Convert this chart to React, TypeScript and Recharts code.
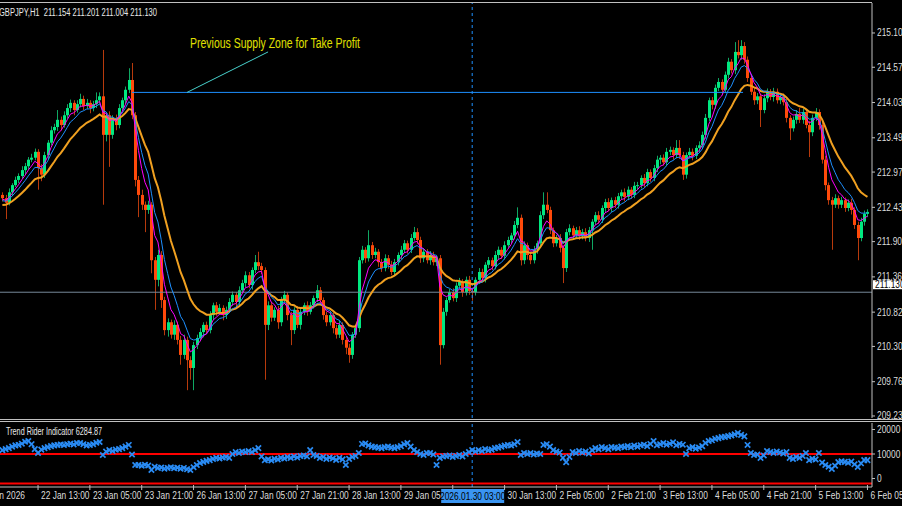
import { ComposedChart, Bar, Line, Scatter, XAxis, YAxis, ReferenceLine } from 'recharts'

// GBPJPY H1 closes, 22 Jan 2026 ~00:00 -> 6 Feb 2026 05:00
const closes = [
  212.57, 212.50, 212.66, 212.77, 212.85, 212.91, 213.00, 213.06, 213.16, 213.19,
  213.28, 213.03, 212.93, 213.23, 213.42, 213.61, 213.66, 213.77, 213.69, 213.84,
  213.95, 214.03, 213.92, 214.01, 214.09, 213.98, 214.03, 213.95, 214.01, 214.07,
  214.13, 213.54, 213.84, 213.54, 213.80, 213.69, 213.95, 214.07, 214.23, 214.38,
  213.84, 212.85, 212.62, 212.47, 212.39, 212.47, 211.62, 211.32, 211.70, 211.01,
  210.55, 210.67, 210.48, 210.63, 210.40, 210.17, 210.40, 210.09, 209.97, 210.32,
  210.43, 210.52, 210.63, 210.55, 210.78, 210.93, 210.83, 210.89, 210.78, 210.86,
  210.98, 211.09, 210.98, 211.16, 211.27, 211.39, 211.24, 211.47, 211.59, 211.53,
  211.47, 210.63, 210.93, 210.74, 210.86, 210.67, 211.01, 211.09, 210.78, 210.55,
  210.86, 210.63, 210.83, 210.93, 210.83, 210.93, 211.04, 211.16, 211.01, 210.78,
  210.67, 210.78, 210.58, 210.48, 210.63, 210.40, 210.28, 210.17, 210.48, 210.58,
  211.62, 211.78, 211.65, 211.85, 211.70, 211.75, 211.59, 211.50, 211.65, 211.55,
  211.44, 211.59, 211.70, 211.78, 211.88, 211.78, 211.96, 212.05, 211.93, 211.65,
  211.75, 211.62, 211.70, 211.59, 211.65, 210.32, 210.83, 211.01, 211.13, 211.04,
  211.23, 211.29, 211.13, 211.32, 211.15, 211.13, 211.32, 211.44, 211.35, 211.55,
  211.62, 211.53, 211.70, 211.78, 211.69, 211.85, 211.93, 212.00, 212.16, 212.27,
  211.62, 211.85, 211.70, 211.62, 211.78, 211.88, 212.31, 212.47, 212.39, 212.08,
  211.88, 211.96, 211.81, 211.50, 212.05, 212.11, 212.00, 212.08, 211.99, 212.05,
  211.96, 212.08, 212.21, 212.31, 212.24, 212.42, 212.51, 212.42, 212.54, 212.47,
  212.60, 212.66, 212.59, 212.70, 212.62, 212.76, 212.77, 212.88, 212.80, 212.97,
  212.88, 213.03, 213.16, 213.19, 213.12, 213.28, 213.31, 213.23, 213.34, 213.23,
  212.93, 213.23, 213.28, 213.22, 213.34, 213.38, 213.54, 213.80, 214.07, 214.00,
  214.26, 214.35, 214.23, 214.46, 214.66, 214.53, 214.81, 214.76, 214.90, 214.69,
  214.41, 214.20, 214.07, 214.13, 213.92, 214.10, 214.20, 214.12, 214.20, 214.07,
  214.12, 214.04, 213.80, 213.64, 213.77, 213.86, 213.77, 213.89, 213.69, 213.58,
  213.80, 213.89, 213.69, 213.16, 212.77, 212.54, 212.47, 212.57, 212.47, 212.54,
  212.42, 212.50, 212.39, 212.16, 211.96, 212.21, 212.33, 212.36,
]
const firstOpen = 212.62

// wick above max(open, close) and below min(open, close)
const upperWicks = [
  .04, .05, .06, .03, .05, .04, .06, .05, .04, .06,
  .05, .04, .06, .05, .04, .06, .05, .15, .05, .06,
  .06, .05, .04, .06, .08, .05, .06, .04, .05, .12,
  .06, .71, .05, .06, .04, .05, .06, .04, .05, .18,
  .26, .05, .06, .08, .05, .06, .04, .05, .08, .06,
  .05, .06, .04, .07, .05, .06, .08, .05, .06, .05,
  .05, .06, .04, .05, .06, .04, .05, .06, .04, .05,
  .06, .05, .04, .06, .05, .06, .05, .04, .11, .16,
  .05, .04, .06, .05, .04, .06, .05, .06, .04, .05,
  .04, .06, .05, .04, .06, .05, .04, .08, .05, .04,
  .05, .06, .04, .05, .06, .04, .05, .06, .04, .05,
  .05, .06, .04, .23, .05, .06, .04, .05, .06, .05,
  .06, .05, .04, .06, .05, .04, .06, .08, .06, .05,
  .05, .04, .06, .05, .04, .05, .06, .04, .05, .06,
  .05, .06, .04, .05, .06, .05, .04, .06, .05, .04,
  .05, .04, .06, .05, .04, .06, .05, .04, .06, .16,
  .05, .06, .04, .05, .06, .04, .06, .19, .19, .05,
  .04, .05, .06, .04, .05, .06, .04, .05, .06, .05,
  .06, .05, .04, .05, .06, .04, .05, .06, .04, .05,
  .05, .04, .06, .05, .04, .06, .05, .04, .06, .05,
  .04, .05, .06, .04, .05, .06, .05, .04, .12, .12,
  .05, .04, .06, .05, .04, .06, .05, .06, .04, .05,
  .05, .06, .04, .05, .06, .04, .15, .18, .09, .06,
  .05, .04, .06, .05, .04, .06, .05, .04, .06, .05,
  .04, .05, .06, .04, .05, .06, .09, .05, .04, .06,
  .05, .06, .04, .05, .06, .04, .05, .06, .04, .05,
  .04, .05, .06, .04, .05, .06, .05, .04,
]
const lowerWicks = [
  .05, .25, .04, .06, .03, .05, .04, .06, .05, .04,
  .04, .33, .10, .05, .06, .04, .05, .06, .08, .04,
  .05, .06, .08, .04, .05, .06, .04, .08, .05, .06,
  .05, 1.07, .10, .49, .06, .08, .05, .04, .06, .05,
  .06, .10, .34, .08, .34, .06, .20, .46, .10, .12,
  .08, .10, .06, .08, .07, .15, .06, .46, .18, .34,
  .06, .05, .08, .06, .05, .07, .06, .05, .08, .06,
  .05, .06, .08, .05, .04, .06, .05, .07, .05, .06,
  .06, .84, .08, .06, .05, .10, .06, .05, .08, .23,
  .06, .05, .07, .05, .06, .04, .05, .06, .05, .07,
  .06, .05, .08, .06, .05, .07, .10, .12, .06, .05,
  .06, .05, .07, .05, .06, .05, .07, .06, .05, .06,
  .05, .06, .05, .07, .05, .06, .05, .04, .06, .07,
  .06, .05, .07, .05, .06, .30, .05, .06, .04, .05,
  .06, .05, .07, .05, .06, .13, .05, .06, .05, .07,
  .05, .06, .05, .07, .05, .06, .04, .05, .06, .05,
  .08, .06, .07, .06, .05, .06, .05, .06, .05, .06,
  .06, .05, .07, .23, .06, .05, .06, .05, .06, .05,
  .05, .06, .30, .05, .06, .05, .07, .05, .06, .05,
  .06, .05, .07, .05, .06, .05, .06, .05, .07, .05,
  .06, .05, .06, .07, .05, .06, .05, .07, .05, .06,
  .08, .06, .05, .07, .05, .06, .05, .06, .05, .07,
  .06, .05, .07, .05, .06, .05, .06, .05, .07, .06,
  .06, .05, .07, .06, .26, .05, .06, .05, .07, .05,
  .06, .05, .07, .18, .05, .06, .05, .06, .05, .38,
  .06, .05, .07, .06, .08, .07, .69, .05, .06, .05,
  .06, .05, .07, .06, .34, .05, .06, .05,
]

// Trend Rider Indicator, one value per bar
const trendRider = [
  11600, 12000, 12400, 13000, 13500, 13700, 14200, 15000, 15300, 14000,
  12000, 10400, 11800, 12400, 12800, 13200, 13500, 13700, 13900, 13700,
  14000, 14200, 13900, 14500, 14500, 14000, 13500, 13700, 14000, 14600,
  14900, 9600, 11000, 11600, 11200, 11800, 12000, 12400, 13000, 13700,
  9800, 5500, 5500, 5200, 5600, 5300, 3500, 4800, 4300, 4500,
  4000, 4300, 4600, 4200, 4400, 4000, 4300, 3800, 3500, 4600,
  5500, 6300, 6800, 7200, 7500, 8000, 8400, 8200, 8600, 8800,
  8400, 10000, 10800, 10400, 11000, 10800, 11200, 10800, 11600, 12400,
  9000, 7500, 7800, 7400, 8000, 7800, 8400, 8200, 8800, 8400,
  9000, 8600, 9200, 9400, 9000, 11600, 9600, 9200, 8400, 8800,
  8000, 8600, 8200, 7600, 8400, 7800, 5500, 8000, 8800, 9200,
  10400, 14100, 14300, 13500, 13000, 12800, 12600, 12400, 12800, 13000,
  12600, 12400, 12800, 13200, 14000, 14500, 13000, 11600, 10800, 10000,
  9600, 10400, 10400, 9800, 5500, 8400, 9000, 9200, 9400, 8800,
  9200, 9600, 9000, 10000, 10800, 11600, 11000, 11600, 11200, 12000,
  11600, 11800, 12400, 12600, 13000, 13400, 13700, 13500, 14000, 14900,
  9600, 10400, 10000, 10400, 9800, 10200, 10000, 13700, 14000, 13000,
  11600, 11000, 10600, 8400, 6700, 8800, 10800, 10400, 11200, 10600,
  11000, 10200, 11600, 12400, 12000, 12800, 12400, 12000, 12800, 12600,
  12400, 13000, 12800, 13200, 12800, 13400, 13000, 13600, 13800, 13200,
  14100, 15300, 13600, 14000, 14500, 13800, 14200, 14800, 13600, 14100,
  13800, 10000, 12400, 12800, 12200, 12600, 13200, 14500, 15300, 15600,
  16200, 16500, 16900, 17000, 17300, 17600, 18000, 18600, 17800, 17200,
  13700, 10400, 9600, 9800, 8400, 9400, 11200, 10800, 10400, 11000,
  10600, 10200, 10800, 8400, 8000, 8800, 8400, 9200, 10400, 7500,
  8000, 7800, 10400, 6500, 5500, 4800, 3900, 5200, 6700, 7000,
  6800, 6400, 6900, 5800, 4700, 6200, 7500, 7500,
]

const maSeeds = { fast: 212.55, mid: 212.52, slow: 212.45 }
const maPeriods = { fast: 5, mid: 8, slow: 16 }

const priceTicks = [215.1, 214.575, 214.035, 213.495, 212.97, 212.43, 211.905, 211.365, 210.825, 210.3, 209.76, 209.235]
const timeTicks = [11, 27, 43, 59, 75, 91, 107, 123, 139, 155, 171, 187, 203, 219, 235, 251, 267]
const timeLabels = [
  '22 Jan 13:00', '23 Jan 05:00', '23 Jan 21:00', '26 Jan 13:00', '27 Jan 05:00', '27 Jan 21:00',
  '28 Jan 13:00', '29 Jan 05:00', '', '30 Jan 13:00', '2 Feb 05:00', '2 Feb 21:00',
  '3 Feb 13:00', '4 Feb 05:00', '4 Feb 21:00', '5 Feb 13:00', '6 Feb 05:00',
]
const crosshairBar = 145
const supplyLevel = 214.19
const bidPrice = 211.13

const FONT = "'Liberation Sans', Arial, sans-serif"
const AXIS = '#c0c0c0'
const LABEL = '#dcdcdc'
const PLOT_W = 872

function ema(values: number[], period: number, seed: number) {
  const k = 2 / (period + 1)
  let prev = seed
  return values.map((v) => (prev = prev + k * (v - prev)))
}

const fastMa = ema(closes, maPeriods.fast, maSeeds.fast)
const midMa = ema(closes, maPeriods.mid, maSeeds.mid)
const slowMa = ema(closes, maPeriods.slow, maSeeds.slow)

const bars = closes.map((close, i) => {
  const open = i === 0 ? firstOpen : closes[i - 1]
  return {
    i,
    open,
    close,
    high: Math.max(open, close) + upperWicks[i],
    low: Math.min(open, close) - lowerWicks[i],
    fast: fastMa[i],
    mid: midMa[i],
    slow: slowMa[i],
    tr: trendRider[i],
  }
})

const X_DOMAIN: [number, number] = [-0.74, 268.4]
// x of the crosshair bar, for the time box drawn on top of the axis labels
const crossX = ((crosshairBar - X_DOMAIN[0]) / (X_DOMAIN[1] - X_DOMAIN[0])) * PLOT_W

function SmallText({ x, y, children, fill = LABEL, anchor = 'start' }: any) {
  return (
    <text transform={`translate(${x} ${y}) scale(0.84 1)`} fontSize={10} fontFamily={FONT} fill={fill} textAnchor={anchor}>
      {children}
    </text>
  )
}

function Candle(props: any) {
  const { x, y, width, height, payload } = props
  if (x == null || height == null || !payload) return null
  const top = height < 0 ? y + height : y
  const h = Math.abs(height)
  const { open, close, high, low } = payload
  const k = h / (high - low)
  const cx = Math.round(x + width / 2)
  const up = close >= open
  const bTop = top + (high - Math.max(open, close)) * k
  const bBot = top + (high - Math.min(open, close)) * k
  return (
    <g>
      <line x1={cx + 0.5} x2={cx + 0.5} y1={top} y2={top + h} stroke={up ? '#0fa863' : '#b83a0c'} />
      <rect x={cx - 1} y={bTop} width={3} height={Math.max(1, bBot - bTop)} fill={up ? '#00e880' : '#ff4a0a'} />
    </g>
  )
}

function Cross(props: any) {
  const { cx, cy } = props
  if (cx == null || cy == null) return null
  const r = 2.7
  return (
    <path
      d={`M${cx - r},${cy - r}L${cx + r},${cy + r}M${cx - r},${cy + r}L${cx + r},${cy - r}`}
      stroke="#2a8cf5"
      strokeWidth={1.7}
    />
  )
}

function PriceTick({ x, y, payload }: any) {
  return (
    <g>
      <line x1={x} x2={x + 3} y1={y} y2={y} stroke={AXIS} />
      <SmallText x={x + 5} y={y + 3.5}>{payload.value.toFixed(3)}</SmallText>
    </g>
  )
}

function IndTick({ x, y, payload }: any) {
  return (
    <g>
      <line x1={x} x2={x + 3} y1={y} y2={y} stroke={AXIS} />
      <SmallText x={x + 5} y={y + 3.5}>{payload.value}</SmallText>
    </g>
  )
}

function TimeTick({ x, y, payload }: any) {
  const idx = timeTicks.indexOf(payload.value)
  return (
    <g>
      <line x1={x} x2={x} y1={y - 2} y2={y + 3} stroke={AXIS} />
      <SmallText x={x + 3} y={y + 12}>{timeLabels[idx]}</SmallText>
    </g>
  )
}

function BidLabel({ viewBox }: any) {
  if (!viewBox) return null
  const x = viewBox.x + viewBox.width + 1
  const y = viewBox.y
  return (
    <g>
      <rect x={x} y={y - 12} width={30} height={9} fill="#ffffff" />
      <SmallText x={x + 2} y={y - 4} fill="#000000">{bidPrice.toFixed(3)}</SmallText>
    </g>
  )
}

export default function App() {
  return (
    <div style={{ position: 'fixed', left: 0, top: 0, width: 902, height: 506, background: '#000', overflow: 'hidden' }}>
      {/* frame lines */}
      <div style={{ position: 'absolute', left: 0, top: 2, width: 872, height: 1, background: AXIS }} />
      <div style={{ position: 'absolute', left: 0, top: 419, width: 902, height: 1, background: AXIS }} />
      <div style={{ position: 'absolute', left: 0, top: 421, width: 902, height: 1, background: AXIS }} />

      <div style={{ position: 'absolute', left: 0, top: 0 }}>
        <ComposedChart width={902} height={419} data={bars} margin={{ top: 3, right: 0, bottom: 1, left: 0 }}>
          <XAxis dataKey="i" type="number" domain={X_DOMAIN} allowDataOverflow hide />
          <YAxis
            orientation="right"
            width={30}
            type="number"
            domain={[209.204, 215.559]}
            allowDataOverflow
            ticks={priceTicks}
            interval={0}
            tickSize={0}
            tickMargin={0}
            tick={<PriceTick />}
            axisLine={{ stroke: AXIS }}
          />
          <ReferenceLine y={bidPrice} stroke="#778899" label={<BidLabel />} />
          <ReferenceLine x={crosshairBar} stroke="#1e90ff" strokeDasharray="3 3" />
          <Bar dataKey={(d: any) => [d.low, d.high]} barSize={3} shape={<Candle />} isAnimationActive={false} />
          <Line dataKey="slow" stroke="#f0a020" strokeWidth={2} dot={false} isAnimationActive={false} />
          <Line dataKey="mid" stroke="#1e90ff" strokeWidth={1} dot={false} isAnimationActive={false} />
          <Line dataKey="fast" stroke="#ff00ff" strokeWidth={1} dot={false} isAnimationActive={false} />
          <ReferenceLine segment={[{ x: 40, y: supplyLevel }, { x: 228.6, y: supplyLevel }]} stroke="#1e90ff" strokeWidth={1} />
          <ReferenceLine segment={[{ x: 57, y: supplyLevel }, { x: 82, y: 214.81 }]} stroke="#48d1cc" strokeWidth={1} />
        </ComposedChart>
      </div>

      <div style={{ position: 'absolute', left: 0, top: 419 }}>
        <ComposedChart width={902} height={87} data={bars} margin={{ top: 4, right: 0, bottom: 0, left: 0 }}>
          <XAxis
            dataKey="i"
            type="number"
            domain={X_DOMAIN}
            allowDataOverflow
            ticks={timeTicks}
            interval={0}
            height={19}
            tickSize={0}
            tickMargin={0}
            tick={<TimeTick />}
            axisLine={{ stroke: AXIS }}
          />
          <YAxis
            orientation="right"
            width={30}
            type="number"
            domain={[-3469, 22653]}
            allowDataOverflow
            ticks={[0, 10000, 20000]}
            interval={0}
            tickSize={0}
            tickMargin={0}
            tick={<IndTick />}
            axisLine={{ stroke: AXIS }}
          />
          <ReferenceLine y={10000} stroke="#ff0000" strokeWidth={2} />
          <ReferenceLine y={-2000} stroke="#ff0000" strokeWidth={2} />
          <ReferenceLine x={crosshairBar} stroke="#1e90ff" strokeDasharray="3 3" />
          <Scatter dataKey="tr" shape={<Cross />} isAnimationActive={false} />
        </ComposedChart>
      </div>

      <svg width={902} height={506} style={{ position: 'absolute', left: 0, top: 0, pointerEvents: 'none' }}>
        <text x={-1} y={16} fontSize={10} fontFamily={FONT} fill="#e8e8e8" textLength={158} lengthAdjust="spacingAndGlyphs" style={{ whiteSpace: 'pre' }}>
          GBPJPY,H1  211.154 211.201 211.004 211.130
        </text>
        <text x={190} y={48} fontSize={14} fontFamily="'Liberation Sans Narrow', 'Liberation Sans', Arial, sans-serif" fill="#e0e000" textLength={170} lengthAdjust="spacingAndGlyphs">
          Previous Supply Zone for Take Profit
        </text>
        <text x={6} y={435} fontSize={10} fontFamily={FONT} fill="#e8e8e8" textLength={96} lengthAdjust="spacingAndGlyphs">
          Trend Rider Indicator 6284.87
        </text>
        <SmallText x={25} y={499} anchor="end">22 Jan 2026</SmallText>
        <rect x={crossX - 31} y={489} width={63} height={14} fill="#3a95f2" />
        <SmallText x={crossX + 0.5} y={499.5} fill="#000000" anchor="middle">2026.01.30 03:00</SmallText>
      </svg>
    </div>
  )
}
